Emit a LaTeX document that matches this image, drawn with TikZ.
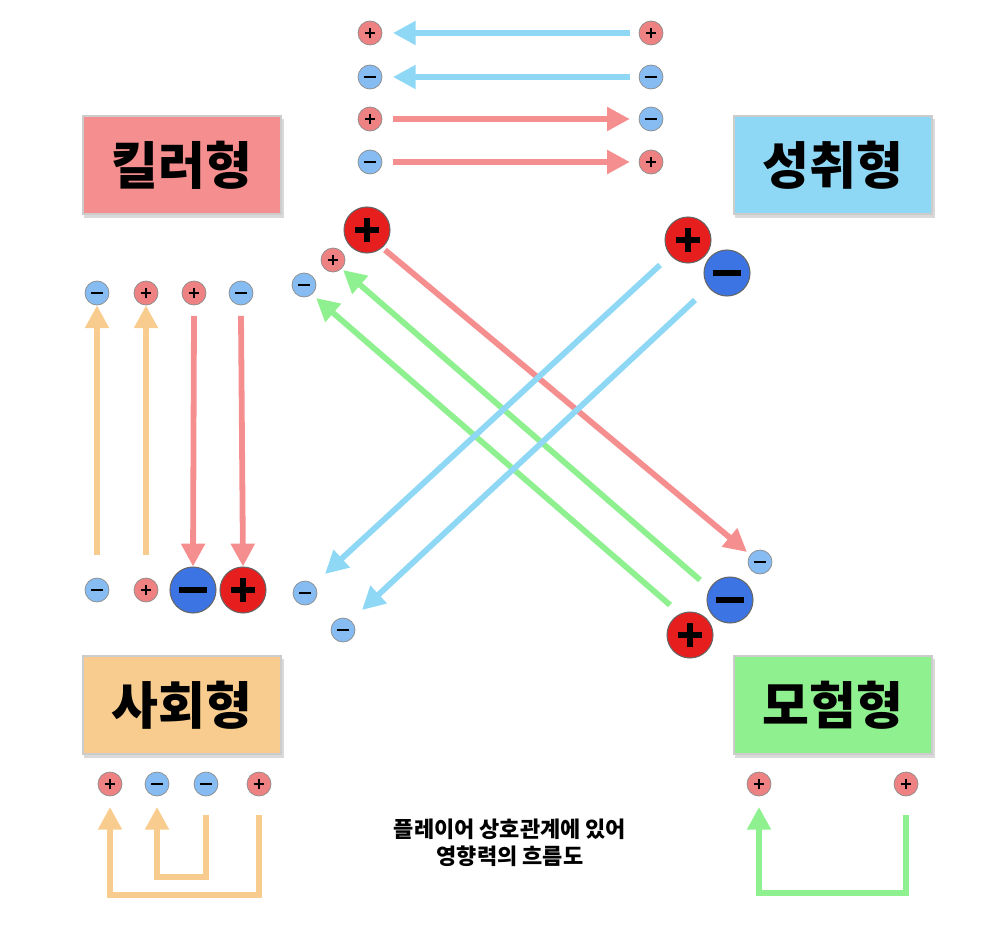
\documentclass[tikz,border=0pt]{standalone}
\usepackage{fontspec}
\newfontfamily\kr{Noto Sans CJK KR}
\usetikzlibrary{arrows.meta}
\definecolor{cpink}{HTML}{F58E8E}
\definecolor{cblue}{HTML}{8ED8F6}
\definecolor{cgreen}{HTML}{8EF08E}
\definecolor{corange}{HTML}{F8CC8E}
\definecolor{spf}{HTML}{EE8282}
\definecolor{smf}{HTML}{86BCF2}
\definecolor{bpf}{HTML}{E61E1E}
\definecolor{bmf}{HTML}{3C74E4}
\begin{document}
\begin{tikzpicture}[x=0.02cm,y=-0.02cm,
 sc/.style={circle,minimum size=24*0.02cm,inner sep=0pt,draw=black!45,line width=0.4pt},
 bc/.style={circle,minimum size=46*0.02cm,inner sep=0pt,draw=black!60,line width=0.6pt},
 plusmk/.style={path picture={\draw[line width=#1,black] ([xshift=-0.6*#1*3.6]path picture bounding box.center)--([xshift=0.6*#1*3.6]path picture bounding box.center);
   \draw[line width=#1,black] ([yshift=-0.6*#1*3.6]path picture bounding box.center)--([yshift=0.6*#1*3.6]path picture bounding box.center);}},
 minusmk/.style={path picture={\draw[line width=#1,black] ([xshift=-0.7*#1*3.6]path picture bounding box.center)--([xshift=0.7*#1*3.6]path picture bounding box.center);}},
 sp/.style={sc,fill=spf,plusmk=1.4pt},
 sm/.style={sc,fill=smf,minusmk=1.4pt},
 bp/.style={bc,fill=bpf,plusmk=3.2pt},
 bm/.style={bc,fill=bmf,minusmk=3.2pt},
 box/.style={minimum width=198*0.02cm,minimum height=98*0.02cm,inner sep=0pt,font=\kr\bfseries\fontsize{29}{32}\selectfont,draw=black!20,line width=0.6pt},
 arr/.style={line width=3.3pt,-{Triangle[length=13pt,width=13pt]}},
]
\useasboundingbox (0,0) rectangle (1000,926);
% boxes
\foreach \n/\x/\y/\c/\t in {k/182/165/cpink/킬러형,s/833/165/cblue/성취형,h/182/705/corange/사회형,m/833/705/cgreen/모험형}{
 \fill[black!15] (\x-98,\y-46) rectangle (\x+102,\y+53);
 \node[box,fill=\c] (\n) at (\x,\y) {\t};
}
% top legend
\node[sp] (t1a) at (370,33) {}; \node[sp] (t1b) at (651,33) {};
\node[sm] (t2a) at (370,77) {}; \node[sm] (t2b) at (651,77) {};
\node[sp] (t3a) at (370,119) {}; \node[sm] (t3b) at (651,119) {};
\node[sm] (t4a) at (370,162) {}; \node[sp] (t4b) at (651,162) {};
\draw[arr,cblue] ([xshift=-5pt]t1b.west) -- ([xshift=6pt]t1a.east);
\draw[arr,cblue] ([xshift=-5pt]t2b.west) -- ([xshift=6pt]t2a.east);
\draw[arr,cpink] ([xshift=6pt]t3a.east) -- ([xshift=-5pt]t3b.west);
\draw[arr,cpink] ([xshift=6pt]t4a.east) -- ([xshift=-5pt]t4b.west);
% left column
\node[sm] (l1) at (97,293) {}; \node[sp] (l2) at (146,293) {};
\node[sp] (l3) at (194,293) {}; \node[sm] (l4) at (241,293) {};
\node[sm] (b1) at (97,590) {}; \node[sp] (b2) at (146,590) {};
\node[bm] (b3) at (193,590) {}; \node[bp] (b4) at (243,590) {};
\draw[arr,corange] (97,555) -- (l1.south);
\draw[arr,corange] (146,555) -- (l2.south);
\draw[arr,cpink] ([yshift=-6pt]l3.south) -- (b3.north);
\draw[arr,cpink] ([yshift=-6pt]l4.south) -- (b4.north);
% center
\node[bp] (c1) at (367,230) {}; \node[sp] (c2) at (333,260) {}; \node[sm] (c3) at (304,285) {};
\node[bp] (d1) at (688,240) {}; \node[bm] (d2) at (727,273) {};
\node[sm] (e1) at (760,562) {}; \node[bm] (e2) at (730,600) {}; \node[bp] (e3) at (690,635) {};
\node[sm] (f1) at (305,593) {}; \node[sm] (f2) at (343,630) {};
\coordinate (pa) at (385,250); \coordinate (pb) at (747,552);
\draw[arr,cpink] (pa) -- (pb);
\coordinate (ga) at (700,580); \coordinate (gb) at (343,270);
\draw[arr,cgreen] (ga) -- (gb);
\coordinate (gc) at (670,605); \coordinate (gd) at (316,298);
\draw[arr,cgreen] (gc) -- (gd);
\coordinate (ba) at (660,265); \coordinate (bb) at (325,574);
\draw[arr,cblue] (ba) -- (bb);
\coordinate (bc2) at (695,300); \coordinate (bd) at (362,610);
\draw[arr,cblue] (bc2) -- (bd);
% bottom left
\node[sp] (h1) at (110,784) {}; \node[sm] (h2) at (157,784) {};
\node[sm] (h3) at (206,784) {}; \node[sp] (h4) at (259,784) {};
\draw[arr,corange,line join=miter] (259,815) -- (259,895) -- (110,895) -- ([yshift=-6pt]h1.south);
\draw[arr,corange,line join=miter] (206,815) -- (206,877) -- (157,877) -- ([yshift=-6pt]h2.south);
% bottom right
\node[sp] (r1) at (759,784) {}; \node[sp] (r2) at (906,784) {};
\draw[arr,cgreen,line join=miter] (906,815) -- (906,893) -- (759,893) -- ([yshift=-6pt]r1.south);
% caption
\node[font=\kr\bfseries\fontsize{12.5}{15.5}\selectfont,align=center] (cap) at (510,843) {플레이어 상호관계에 있어\\영향력의 흐름도};
\end{tikzpicture}
\end{document}
